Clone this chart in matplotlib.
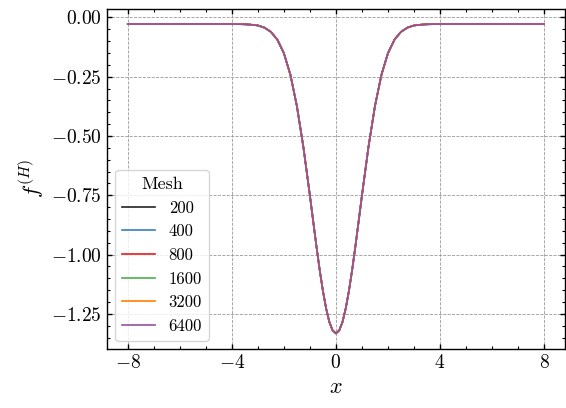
import matplotlib
matplotlib.use("Agg")
import matplotlib.pyplot as plt
from matplotlib.ticker import MultipleLocator

plt.rcParams['font.family'] = 'serif'
plt.rcParams['font.serif'] = ['cmr10']
plt.rcParams['mathtext.fontset'] = 'cm'
plt.rcParams['axes.formatter.use_mathtext'] = True
plt.rcParams['axes.unicode_minus'] = True

# solution profile on the finest grids (all meshes collapse onto one curve)
x = [-8.0, -6.0, -4.0, -3.5, -3.25, -3.0, -2.75, -2.5, -2.25, -2.0, -1.75, -1.5, -1.25,
     -1.0, -0.875, -0.75, -0.625, -0.5, -0.375, -0.25, -0.125, 0.0,
     0.125, 0.25, 0.375, 0.5, 0.625, 0.75, 0.875, 1.0,
     1.25, 1.5, 1.75, 2.0, 2.25, 2.5, 2.75, 3.0, 3.25, 3.5, 4.0, 6.0, 8.0]
f_H = [-0.028, -0.028, -0.028, -0.029, -0.031, -0.034, -0.043, -0.061, -0.094, -0.151, -0.242, -0.374, -0.547,
       -0.751, -0.858, -0.964, -1.064, -1.153, -1.228, -1.285, -1.320, -1.332,
       -1.320, -1.285, -1.228, -1.153, -1.064, -0.964, -0.858, -0.751,
       -0.547, -0.374, -0.242, -0.151, -0.094, -0.061, -0.043, -0.034, -0.031, -0.029, -0.028, -0.028, -0.028]

meshes = [200, 400, 800, 1600, 3200, 6400]
colors = ['#222222', '#377eb8', '#e41a1c', '#4daf4a', '#ff7f00', '#984ea3']

fig = plt.figure(figsize=(5.66, 4.08), dpi=100)
ax = fig.add_axes([0.189, 0.145, 0.809, 0.834])

for n, c in zip(meshes, colors):
    ax.plot(x, f_H, color=c, linewidth=1.2, label=str(n))

ax.set_xlabel(r'$x$', fontsize=16)
ax.set_ylabel(r'$f^{(H)}$', fontsize=16)

ax.xaxis.set_major_locator(MultipleLocator(4))
ax.xaxis.set_minor_locator(MultipleLocator(1))
ax.yaxis.set_major_locator(MultipleLocator(0.25))
ax.yaxis.set_minor_locator(MultipleLocator(0.05))
ax.tick_params(which='both', direction='in', top=True, right=True, labelsize=14)
ax.tick_params(which='major', length=3.5, width=1)
ax.tick_params(which='minor', length=2, width=0.8)
for s in ax.spines.values():
    s.set_linewidth(1.0)

ax.grid(True, which='major', linestyle='--', linewidth=0.6, color='#999999')

leg = ax.legend(title='Mesh', loc='lower left', fontsize=12, title_fontsize=13,
                handlelength=2.0, frameon=True, fancybox=True)
leg.get_frame().set_edgecolor('#cccccc')

fig.savefig('out.png', dpi=100)
